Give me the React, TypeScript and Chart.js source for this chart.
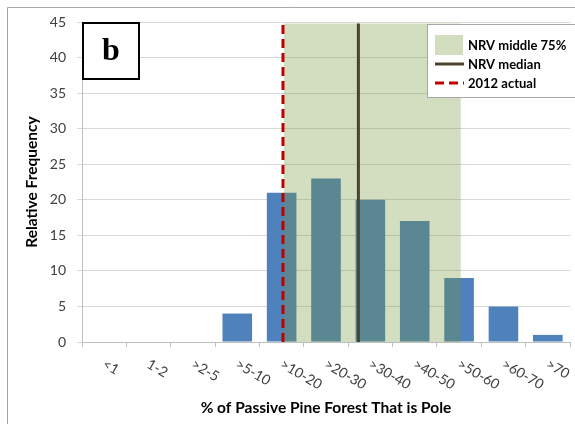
import { useEffect, useRef } from "react";
import { Chart, registerables } from "chart.js";

Chart.register(...registerables);

// ---- data ----
const categories = ["<1", "1-2", ">2-5", ">5-10", ">10-20", ">20-30", ">30-40", ">40-50", ">50-60", ">60-70", ">70"];
const frequency = [0, 0, 0, 4, 21, 23, 20, 17, 9, 5, 1];
const yMax = 45;
const yStep = 5;
// positions in category-index units (0 = centre of "<1")
const nrvMiddle75 = [4.05, 8.04];
const nrvMedian = 5.73;
const actual2012 = 4.03;
const bandTop = 44.8;

const FONT = "Lato, 'Open Sans', sans-serif";

const framePlugin = {
  id: "frame",
  beforeDraw(chart: any) {
    const ctx = chart.ctx;
    ctx.save();
    ctx.fillStyle = "#ffffff";
    ctx.fillRect(0, 0, chart.width, chart.height);
    ctx.strokeStyle = "#A6A6A6";
    ctx.lineWidth = 1;
    ctx.beginPath();
    ctx.moveTo(7.5, chart.height);
    ctx.lineTo(7.5, 7.5);
    ctx.lineTo(chart.width, 7.5);
    ctx.stroke();
    ctx.restore();
  },
};

const xLabelPlugin = {
  id: "xLabels",
  afterDraw(chart: any) {
    const ctx = chart.ctx;
    const xs = chart.scales.x;
    const base = chart.chartArea.bottom;
    ctx.save();
    ctx.font = `14px ${FONT}`;
    ctx.fillStyle = "#404040";
    ctx.textAlign = "left";
    ctx.textBaseline = "top";
    categories.forEach((lab, i) => {
      const px = xs.getPixelForValue(i);
      ctx.save();
      ctx.translate(px + 3, base + 15);
      ctx.rotate((30 * Math.PI) / 180);
      ctx.fillText(lab, 0, 0);
      ctx.restore();
    });
    ctx.restore();
  },
};

const overlayPlugin = {
  id: "overlay",
  afterDraw(chart: any) {
    const ctx = chart.ctx;
    const area = chart.chartArea;
    ctx.save();
    // "b" panel box
    ctx.fillStyle = "#ffffff";
    ctx.fillRect(area.left, area.top, 57, 57);
    ctx.strokeStyle = "#000000";
    ctx.lineWidth = 2;
    ctx.strokeRect(area.left + 1, area.top + 1, 56, 56);
    ctx.fillStyle = "#000000";
    ctx.font = "bold 32px 'Liberation Serif', 'DejaVu Serif', serif";
    ctx.textAlign = "center";
    ctx.textBaseline = "middle";
    ctx.fillText("b", area.left + 29, area.top + 30);

    // legend
    const lx = 427.5;
    const ly = 24.5;
    ctx.fillStyle = "#ffffff";
    ctx.fillRect(lx, ly, 160, 73);
    ctx.strokeStyle = "#A6A6A6";
    ctx.lineWidth = 1;
    ctx.strokeRect(lx, ly, 160, 73);
    const ds = chart.data.datasets;
    const items = [ds[1], ds[2], ds[3]];
    const rows = [45, 64, 83];
    ctx.font = `bold 13px ${FONT}`;
    ctx.textAlign = "left";
    ctx.textBaseline = "middle";
    items.forEach((d: any, k: number) => {
      const cy = rows[k];
      if (k === 0) {
        ctx.fillStyle = "#D3DDC0";
        ctx.fillRect(435, cy - 10, 28, 20);
      } else {
        ctx.strokeStyle = d.borderColor;
        ctx.lineWidth = 3;
        ctx.setLineDash(d.borderDash || []);
        ctx.beginPath();
        ctx.moveTo(435, cy);
        ctx.lineTo(464, cy);
        ctx.stroke();
        ctx.setLineDash([]);
      }
      ctx.fillStyle = "#000000";
      ctx.fillText(d.label, 468, cy + 1);
    });
    ctx.restore();
  },
};

export default function App() {
  const ref = useRef<HTMLCanvasElement | null>(null);

  useEffect(() => {
    if (!ref.current) return;
    const chart = new Chart(ref.current, {
      type: "bar",
      data: {
        datasets: [
          {
            type: "bar",
            label: "Relative Frequency",
            data: frequency.map((v, i) => ({ x: i, y: v })),
            backgroundColor: "#4F81BD",
            barPercentage: 0.667,
            categoryPercentage: 1,
            grouped: false,
            order: 3,
          },
          {
            type: "line",
            label: "NRV middle 75%",
            data: [
              { x: nrvMiddle75[0], y: bandTop },
              { x: nrvMiddle75[1], y: bandTop },
            ],
            fill: "origin",
            backgroundColor: "rgba(117,149,58,0.32)",
            borderWidth: 0,
            borderColor: "rgba(0,0,0,0)",
            pointRadius: 0,
            order: 2,
          },
          {
            type: "line",
            label: "NRV median",
            data: [
              { x: nrvMedian, y: 0 },
              { x: nrvMedian, y: bandTop },
            ],
            borderColor: "#4A452A",
            borderWidth: 3,
            pointRadius: 0,
            fill: false,
            order: 1,
          },
          {
            type: "line",
            label: "2012 actual",
            data: [
              { x: actual2012, y: 0 },
              { x: actual2012, y: bandTop },
            ],
            borderColor: "#C00000",
            borderWidth: 3,
            borderDash: [9, 5],
            pointRadius: 0,
            fill: false,
            order: 0,
          },
        ] as any,
      },
      options: {
        animation: false,
        responsive: false,
        devicePixelRatio: 1,
        layout: { padding: { left: 0, right: 5, top: 22, bottom: 0 } },
        plugins: {
          legend: { display: false },
          tooltip: { enabled: false },
        },
        scales: {
          x: {
            type: "linear",
            min: -0.5,
            max: 10.5,
            offset: false,
            grid: {
              display: true,
              drawOnChartArea: false,
              drawTicks: true,
              tickLength: 5,
              offset: false,
              color: "#BFBFBF",
            },
            border: { color: "#BFBFBF" },
            ticks: { display: false, stepSize: 1, autoSkip: false },
            title: {
              display: true,
              text: "% of Passive Pine Forest That is Pole",
              font: { family: FONT, size: 15.5, weight: "bold" },
              color: "#000000",
              padding: { top: 0, bottom: 6.7 },
            },
            afterFit: (s: any) => {
              s.height = 82;
            },
          },
          y: {
            min: 0,
            max: yMax,
            ticks: {
              stepSize: yStep,
              padding: 11,
              color: "#404040",
              font: { family: FONT, size: 14 },
            },
            grid: { color: "#D9D9D9", tickLength: 5 },
            border: { color: "#BFBFBF" },
            title: {
              display: true,
              text: "Relative Frequency",
              font: { family: FONT, size: 15.5, weight: "bold" },
              color: "#000000",
              padding: { top: 22.4, bottom: 0 },
            },
            afterFit: (s: any) => {
              s.width = 82;
            },
          },
        },
      } as any,
      plugins: [framePlugin, xLabelPlugin, overlayPlugin],
    });
    return () => chart.destroy();
  }, []);

  return (
    <div style={{ position: "absolute", left: 0, top: 0, width: 575, height: 424 }}>
      <canvas ref={ref} width={575} height={424} />
    </div>
  );
}
